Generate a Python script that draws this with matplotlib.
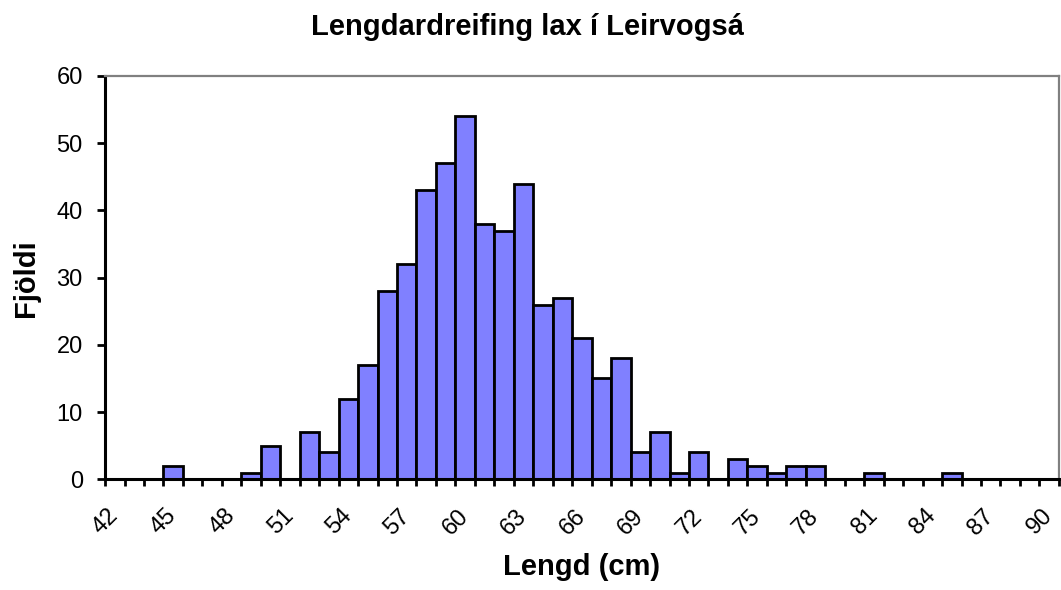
import numpy as np
import matplotlib
matplotlib.use('Agg')
import matplotlib.pyplot as plt
from matplotlib.ticker import FixedLocator

plt.rcParams['font.family'] = ['Liberation Sans', 'DejaVu Sans']

# lengdir (cm) og fjöldi laxa
lengd = list(range(42, 91))
fjoldi = [0, 0, 0, 2, 0, 0, 0, 1, 5, 0,
          7, 4, 12, 17, 28, 32, 43, 47, 54, 38,
          37, 44, 26, 27, 21, 15, 18, 4, 7, 1,
          4, 0, 3, 2, 1, 2, 2, 0, 0, 1,
          0, 0, 0, 1, 0, 0, 0, 0, 0]
x_merki = list(range(42, 91, 3))
y_merki = [0, 10, 20, 30, 40, 50, 60]

fig = plt.figure(figsize=(10.61, 5.90), dpi=100)
ax = fig.add_axes([0.099, 0.1876, 0.899, 0.6836])

ax.bar(lengd, fjoldi, width=1.0, color='#8080FF', edgecolor='black', linewidth=2.0)

ax.set_xlim(lengd[0] - 0.5, lengd[-1] + 0.5)
ax.set_ylim(0, 60)

# merki á milli flokka, texti í miðju flokks
ax.xaxis.set_major_locator(FixedLocator(x_merki))
ax.set_xticklabels([str(v) for v in x_merki], rotation=45, ha='right',
                   va='center', rotation_mode='anchor', fontsize=17)
ax.tick_params(axis='x', which='major', length=0, pad=24)
ax.xaxis.set_minor_locator(FixedLocator(np.arange(lengd[0] - 0.5, lengd[-1] + 1.0, 1.0)))
ax.tick_params(axis='x', which='minor', length=5, width=2.0, direction='out')

ax.set_yticks(y_merki)
ax.tick_params(axis='y', length=6, width=2.0, direction='out', pad=10, labelsize=17)

for s in ['left', 'bottom']:
    ax.spines[s].set_linewidth(2.2)
    ax.spines[s].set_color('black')
for s in ['top', 'right']:
    ax.spines[s].set_linewidth(1.6)
    ax.spines[s].set_color('#808080')
ax.spines['bottom'].set_zorder(5)

ax.set_ylabel('Fjöldi', fontsize=21, fontweight='bold', labelpad=12)
ax.set_xlabel('Lengd (cm)', fontsize=21, fontweight='bold', labelpad=10)
fig.text(0.497, 0.955, 'Lengdardreifing lax í Leirvogsá', ha='center', va='center',
         fontsize=21, fontweight='bold')

fig.savefig('out.png', dpi=100)
